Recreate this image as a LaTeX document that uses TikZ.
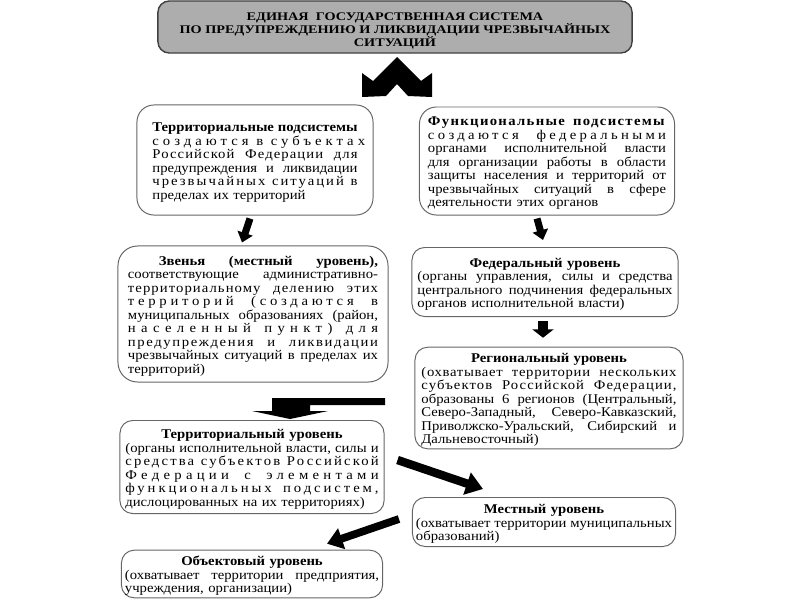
\documentclass[tikz,border=0pt]{standalone}
\usepackage{fontspec}
\setmainfont{Liberation Serif}[FakeStretch=1.1]
\newfontfamily\titlefont{Liberation Serif}[FakeStretch=1.22]
\usetikzlibrary{arrows.meta,calc}
% one line of a box: justified, letter-spaced, title, last
\newcommand{\jline}[1]{\par\hbox to\hsize{\spaceskip=\fontdimen2\font plus 1fil #1}}
\newcommand{\sline}[2]{\par\hbox to\hsize{\addfontfeature{LetterSpace=#1}\spaceskip=\fontdimen2\font plus 1fil #2}}
\newcommand{\tline}[1]{\par\hbox to\hsize{\hfil\bfseries #1\hfil}}
\newcommand{\eline}[1]{\par\hbox to\hsize{#1\hfil}}
\begin{document}
\begin{tikzpicture}[x=0.025cm, y=-0.025cm,
  every node/.style={font=\fontsize{9.5}{9.6}\selectfont, inner sep=1.5pt},
  lvl/.style={draw=black!60, line width=0.7pt, rounded corners=9pt},
  fat/.style={line width=5pt, -{Triangle[width=11pt,length=7pt]}}]
\useasboundingbox (0,0) rectangle (800,600);
\node[lvl, fill=black!32, draw=black!75, line width=1pt, rounded corners=8pt, minimum width=11.85cm, minimum height=1.3cm, align=center, font=\titlefont\bfseries\fontsize{8.3}{9.5}\selectfont] (ess) at (395,27) {\rule{0pt}{11pt}ЕДИНАЯ\ \ ГОСУДАРСТВЕННАЯ СИСТЕМА\\ПО ПРЕДУПРЕЖДЕНИЮ И ЛИКВИДАЦИИ ЧРЕЗВЫЧАЙНЫХ\\СИТУАЦИЙ};
\fill (397,57) -- (421,81) -- (432,73) -- (432,97) -- (408,96) -- (397,84) -- (386,96) -- (362,97) -- (362,73) -- (373,81) -- cycle;
\node[lvl, rounded corners=12pt, minimum width=5.9cm, minimum height=2.75cm, text width=5.125cm] (terrsub) at (255,160) {%
\jline{\textbf{Территориальные подсистемы}}
\sline{30}{создаются в субъектах}
\sline{8}{Российской Федерации для}
\jline{предупреждения и ликвидации}
\sline{15}{чрезвычайных ситуаций в}
\eline{пределах их территорий}};
\node[lvl, rounded corners=12pt, minimum width=6.375cm, minimum height=2.7cm, text width=5.95cm] (funcsub) at (547,161) {%
\sline{10}{\textbf{Функциональные подсистемы}}
\sline{25}{создаются федеральными}
\jline{органами исполнительной власти}
\jline{для организации работы в области}
\jline{защиты населения и территорий от}
\jline{чрезвычайных ситуаций в сфере}
\eline{деятельности этих органов}};
\node[lvl, rounded corners=14pt, minimum width=6.75cm, minimum height=3.4cm, text width=6.25cm] (zven) at (253,314) {%
\jline{\hskip 22pt\textbf{Звенья (местный уровень),}}
\jline{соответствующие административно-}
\sline{8}{территориальному делению этих}
\sline{28}{территорий (создаются в}
\jline{муниципальных образованиях (район,}
\sline{40}{населенный пункт) для}
\sline{12}{предупреждения и ликвидации}
\jline{чрезвычайных ситуаций в пределах их}
\eline{территорий)}};
\node[lvl, minimum width=6.65cm, minimum height=1.725cm, text width=6.375cm] (fed) at (545,282) {%
\tline{Федеральный уровень}
\jline{(органы управления, силы и средства}
\jline{центрального подчинения федеральных}
\eline{органов исполнительной власти)}};
\node[lvl, minimum width=6.7cm, minimum height=2.4cm, text width=6.375cm] (reg) at (549,398) {%
\tline{Региональный уровень}
\sline{5}{(охватывает территории нескольких}
\sline{8}{субъектов Российской Федерации,}
\jline{образованы 6 регионов (Центральный,}
\jline{Северо-Западный, Северо-Кавказский,}
\jline{Приволжско-Уральский, Сибирский и}
\eline{Дальневосточный)}};
\fill (385,398) -- (385,405) -- (310,405) -- (310,411) -- (328,411) -- (290,419) -- (252,411) -- (272,411) -- (272,398) -- cycle;
\node[lvl, minimum width=6.6cm, minimum height=2.325cm, text width=6.33cm] (terrlev) at (252,467) {%
\tline{Территориальный уровень}
\jline{(органы исполнительной власти, силы и}
\sline{16}{средства субъектов Российской}
\sline{32}{Федерации с элементами}
\sline{22}{функциональных подсистем,}
\eline{дислоцированных на их территориях)}};
\node[lvl, minimum width=6.575cm, minimum height=1.225cm, text width=6.4cm] (mest) at (544,522) {%
\tline{Местный уровень}
\jline{(охватывает территории муниципальных}
\eline{образований)}};
\node[lvl, minimum width=6.525cm, minimum height=1.125cm, text width=6.35cm] (obj) at (252,574) {%
\tline{Объектовый уровень}
\jline{(охватывает территории предприятия,}
\eline{учреждения, организации)}};
\draw[fat] ($(terrsub.south)+(-5,3)$) -- ($(zven.north)+(-11,-3)$);
\draw[fat] ($(funcsub.south)+(-10,3)$) -- ($(fed.north)+(-2,-7)$);
\draw[line width=7pt, -{Triangle[width=15pt,length=6pt]}] ($(fed.south)+(-2,4)$) -- ($(reg.north)+(-6,-9)$);
\draw[line width=6pt, -{Triangle[width=16pt,length=12pt]}] ($(terrlev.east)+(13,-7)$) -- ($(mest.north)+(-61,-8)$);
\draw[line width=5.5pt, -{Triangle[width=15pt,length=11pt]}] ($(mest.west)+(-13,-3)$) -- ($(obj.north)+(75,-6)$);
\end{tikzpicture}
\end{document}
